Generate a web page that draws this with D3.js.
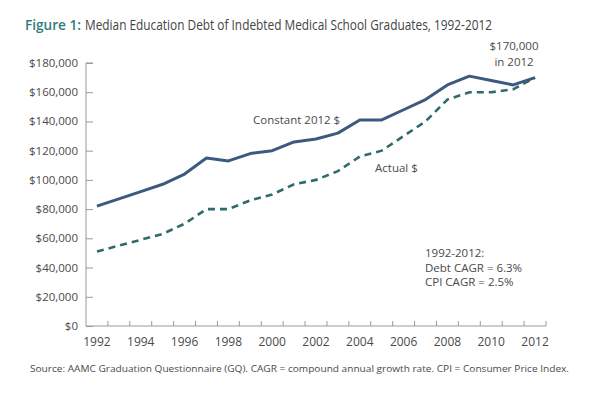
<!DOCTYPE html>
<html>
<head>
<meta charset="utf-8">
<script src="https://cdn.jsdelivr.net/npm/d3@7"></script>
<style>
  body { margin: 0; background: #fff; }
  text { font-family: "Open Sans", "Noto Sans", sans-serif; fill: #4a4a4a; }
</style>
</head>
<body>
<svg id="chart" width="597" height="403"></svg>
<script>
const years = d3.range(1992, 2013);
const constantDebt = [82, 87, 92, 97, 104, 115, 113, 118, 120, 126, 128, 132, 141, 141, 148, 155, 165, 171, 168, 165, 170];
const actualDebt = [51, 55, 59, 63, 70, 80, 80, 86, 90, 97, 100, 106, 116, 120, 130, 140, 155, 160, 160, 162, 170];
const yTicks = [0, 20000, 40000, 60000, 80000, 100000, 120000, 140000, 160000, 180000];
const xLabels = d3.range(1992, 2013, 2);

const svg = d3.select('#chart');
const margin = {left: 86, right: 51, top: 63, bottom: 77};
const width = 597 - margin.left - margin.right;
const height = 403 - margin.top - margin.bottom;

const x = d3.scaleBand().domain(years).range([margin.left, margin.left + width]);
const y = d3.scaleLinear().domain([0, 180000]).range([margin.top + height, margin.top]);
const cx = d => x(d) + x.bandwidth() / 2;

// title, in two pieces so the label part keeps its own colour and weight
svg.append('text')
    .attr('x', 25).attr('y', 30)
    .attr('font-size', 14.5).attr('font-weight', 600)
    .attr('textLength', 56).attr('lengthAdjust', 'spacingAndGlyphs')
    .style('fill', '#2e7d7b')
    .text('Figure 1:');
svg.append('text')
    .attr('x', 85).attr('y', 30)
    .attr('font-size', 14.5)
    .attr('textLength', 407).attr('lengthAdjust', 'spacingAndGlyphs')
    .style('fill', '#444')
    .text('Median Education Debt of Indebted Medical School Graduates, 1992-2012');

// y axis
const yAxis = svg.append('g')
    .attr('transform', `translate(${margin.left},0)`)
    .call(d3.axisRight(y).tickValues(yTicks).tickSize(7).tickFormat(''));
yAxis.select('.domain').attr('stroke', '#9a9a9a').attr('d', `M7,${y(180000)}H0V${y(0)}`);
yAxis.selectAll('line').attr('stroke', '#9a9a9a');

svg.append('g').selectAll('text')
    .data(yTicks)
    .join('text')
    .attr('x', 78).attr('y', d => y(d) + 4)
    .attr('text-anchor', 'end')
    .attr('font-size', 11.5)
    .text(d => '$' + d3.format(',')(d));

// x axis
const xAxis = svg.append('g')
    .attr('transform', `translate(0,${y(0)})`)
    .call(d3.axisTop(x).tickValues(years.slice(1)).tickSize(5).tickFormat(''));
xAxis.selectAll('.tick line').attr('transform', `translate(${-x.bandwidth() / 2},0)`).attr('stroke', '#9a9a9a');
xAxis.select('.domain').attr('stroke', '#9a9a9a').attr('d', `M${margin.left},0H${margin.left + width}V-5`);

svg.append('g').selectAll('text')
    .data(xLabels)
    .join('text')
    .attr('x', d => cx(d)).attr('y', y(0) + 20)
    .attr('text-anchor', 'middle')
    .attr('font-size', 12)
    .text(d => d);

// lines
const line = d3.line().x(d => cx(d[0])).y(d => y(d[1] * 1000));

svg.append('path')
    .datum(years.map((yr, i) => [yr, actualDebt[i]]))
    .attr('d', line)
    .attr('fill', 'none')
    .attr('stroke', '#2f6b6c')
    .attr('stroke-width', 2.6)
    .attr('stroke-dasharray', '7,5');

svg.append('path')
    .datum(years.map((yr, i) => [yr, constantDebt[i]]))
    .attr('d', line)
    .attr('fill', 'none')
    .attr('stroke', '#3c5a80')
    .attr('stroke-width', 3)
    .attr('stroke-linejoin', 'round');

// annotations
const notes = [
    {t: '$170,000', x: 514, y: 50, a: 'middle'},
    {t: 'in 2012', x: 514, y: 66, a: 'middle'},
    {t: 'Constant 2012 $', x: 253, y: 124, a: 'start'},
    {t: 'Actual $', x: 375, y: 172, a: 'start'},
    {t: '1992-2012:', x: 425, y: 257, a: 'start'},
    {t: 'Debt CAGR = 6.3%', x: 425, y: 272, a: 'start'},
    {t: 'CPI CAGR = 2.5%', x: 425, y: 286, a: 'start'}
];
svg.append('g').selectAll('text')
    .data(notes)
    .join('text')
    .attr('x', d => d.x).attr('y', d => d.y)
    .attr('text-anchor', d => d.a)
    .attr('font-size', 11.5)
    .text(d => d.t);

svg.append('text')
    .attr('x', 30).attr('y', 372)
    .attr('font-size', 9.5)
    .attr('textLength', 539).attr('lengthAdjust', 'spacingAndGlyphs')
    .text('Source: AAMC Graduation Questionnaire (GQ). CAGR = compound annual growth rate. CPI = Consumer Price Index.');
</script>
</body>
</html>
